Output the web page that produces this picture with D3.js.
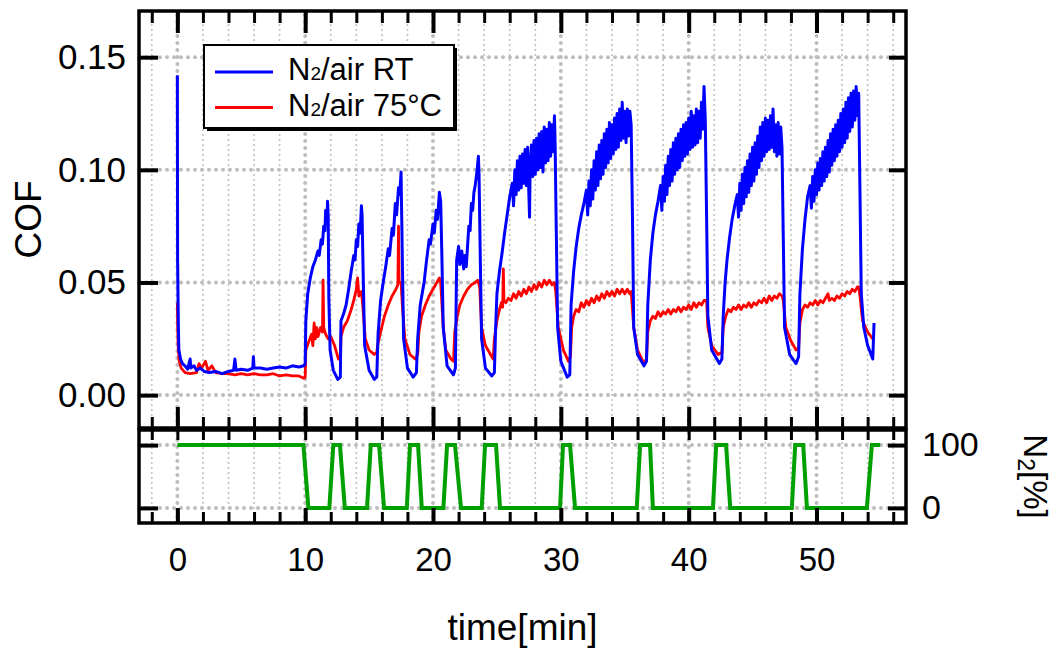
<!DOCTYPE html>
<html>
<head>
<meta charset="utf-8">
<script src="https://cdn.jsdelivr.net/npm/d3@7"></script>
<style>
  body { margin: 0; background: #fff; }
  text { font-family: "Liberation Sans", Arial, sans-serif; fill: #000; }
</style>
</head>
<body>
<div id="viz"></div>
<script>
// COF vs time, N2 / air switching, room temperature (blue)
const rtData = [
  [0.0, 0.142], [0.02, 0.060], [0.05, 0.045], [0.08, 0.030], [0.12, 0.020], [0.25, 0.016], [0.4, 0.014],
  [0.6, 0.013], [0.8, 0.0115], [1.0, 0.016], [1.05, 0.012], [1.3, 0.013], [1.5, 0.011], [1.8, 0.012],
  [2.1, 0.0105], [2.5, 0.010], [3.0, 0.0105], [3.5, 0.0095], [4.0, 0.0105], [4.4, 0.011], [4.5, 0.016],
  [4.6, 0.011], [5.0, 0.0115], [5.5, 0.011], [5.9, 0.012], [5.95, 0.017], [6.0, 0.012], [6.5, 0.012],
  [7.0, 0.0115], [7.5, 0.012], [8.0, 0.0125], [8.5, 0.012], [9.0, 0.013], [9.5, 0.0125], [9.9, 0.013],
  [10.0, 0.014], [10.05, 0.033], [10.2, 0.045], [10.4, 0.052], [10.6, 0.057], [10.8, 0.060], [11.0, 0.064],
  [11.1, 0.062], [11.25, 0.069], [11.35, 0.067], [11.45, 0.075], [11.55, 0.073], [11.6, 0.082], [11.7, 0.078],
  [11.75, 0.086], [11.8, 0.080],
  [11.85, 0.043], [11.95, 0.020], [12.2, 0.011], [12.55, 0.007], [12.75, 0.008],
  [12.8, 0.033], [13.0, 0.036], [13.2, 0.040], [13.4, 0.047], [13.6, 0.055], [13.8, 0.062], [13.9, 0.060],
  [14.0, 0.069], [14.1, 0.066], [14.2, 0.076], [14.3, 0.072], [14.4, 0.084], [14.45, 0.080],
  [14.55, 0.050], [14.65, 0.022], [15.0, 0.011], [15.4, 0.007], [15.6, 0.008],
  [15.7, 0.027], [15.9, 0.042], [16.1, 0.050], [16.3, 0.057], [16.5, 0.065], [16.6, 0.062], [16.8, 0.074],
  [16.9, 0.071], [17.05, 0.085], [17.15, 0.080], [17.3, 0.092], [17.4, 0.089], [17.5, 0.099],
  [17.6, 0.060], [17.7, 0.025], [18.0, 0.012], [18.45, 0.008], [18.7, 0.010],
  [18.8, 0.025], [19.0, 0.040], [19.3, 0.050], [19.5, 0.060], [19.7, 0.069], [19.8, 0.067], [20.0, 0.076],
  [20.1, 0.072], [20.25, 0.082], [20.35, 0.078], [20.5, 0.090], [20.6, 0.086],
  [20.7, 0.060], [20.8, 0.030], [21.1, 0.013], [21.6, 0.009], [21.75, 0.012],
  [21.85, 0.060], [22.0, 0.066], [22.1, 0.058], [22.25, 0.064], [22.4, 0.056], [22.5, 0.062], [22.6, 0.057],
  [22.7, 0.066], [22.8, 0.075], [22.9, 0.073], [23.0, 0.085], [23.1, 0.082], [23.2, 0.090], [23.3, 0.093],
  [23.45, 0.100], [23.55, 0.106], [23.6, 0.098],
  [23.7, 0.060], [23.8, 0.025], [24.1, 0.012], [24.6, 0.0085], [24.8, 0.010],
  [24.9, 0.030], [25.0, 0.045], [25.2, 0.055], [25.4, 0.063], [25.6, 0.072], [25.8, 0.080], [26.0, 0.088],
  [26.2, 0.094], [26.3, 0.084], [26.4, 0.100], [26.5, 0.089], [26.6, 0.104], [26.7, 0.091], [26.8, 0.106],
  [26.9, 0.092], [27.0, 0.107], [27.1, 0.094], [27.2, 0.109], [27.3, 0.093], [27.4, 0.110], [27.5, 0.089],
  [27.55, 0.079], [27.6, 0.101], [27.7, 0.111], [27.8, 0.097], [27.9, 0.113], [28.0, 0.098], [28.1, 0.114],
  [28.2, 0.100], [28.3, 0.116], [28.4, 0.101], [28.5, 0.117], [28.6, 0.099], [28.7, 0.119], [28.8, 0.103],
  [28.9, 0.118], [29.0, 0.104], [29.1, 0.121], [29.2, 0.106], [29.3, 0.120], [29.4, 0.108], [29.5, 0.124],
  [29.55, 0.112],
  [29.65, 0.070], [29.75, 0.030], [30.0, 0.015], [30.5, 0.008], [30.7, 0.009],
  [30.8, 0.040], [31.0, 0.055], [31.2, 0.066], [31.4, 0.074], [31.6, 0.080], [31.8, 0.085], [32.0, 0.091],
  [32.1, 0.080], [32.2, 0.095], [32.3, 0.084], [32.4, 0.100], [32.5, 0.087], [32.6, 0.104], [32.7, 0.091],
  [32.8, 0.108], [32.9, 0.093], [33.0, 0.111], [33.1, 0.096], [33.2, 0.113], [33.3, 0.098], [33.4, 0.116],
  [33.5, 0.101], [33.6, 0.118], [33.7, 0.103], [33.8, 0.121], [33.9, 0.105], [34.0, 0.120], [34.1, 0.107],
  [34.2, 0.123], [34.3, 0.109], [34.4, 0.125], [34.5, 0.110], [34.6, 0.127], [34.7, 0.113], [34.8, 0.130],
  [34.9, 0.114], [35.0, 0.126], [35.1, 0.112], [35.2, 0.127], [35.3, 0.115], [35.4, 0.126], [35.5, 0.120],
  [35.6, 0.080], [35.7, 0.030], [36.0, 0.018], [36.5, 0.013], [36.7, 0.015],
  [36.8, 0.040], [37.0, 0.060], [37.2, 0.072], [37.4, 0.080], [37.6, 0.086], [37.8, 0.093], [37.9, 0.082],
  [38.0, 0.097], [38.1, 0.086], [38.2, 0.102], [38.3, 0.089], [38.4, 0.106], [38.5, 0.093], [38.6, 0.109],
  [38.7, 0.095], [38.8, 0.112], [38.9, 0.098], [39.0, 0.114], [39.1, 0.100], [39.2, 0.116], [39.3, 0.101],
  [39.4, 0.118], [39.5, 0.104], [39.6, 0.120], [39.7, 0.106], [39.8, 0.121], [39.9, 0.107], [40.0, 0.123],
  [40.1, 0.109], [40.2, 0.126], [40.3, 0.110], [40.4, 0.124], [40.5, 0.111], [40.6, 0.127], [40.7, 0.112],
  [40.8, 0.126], [40.9, 0.114], [41.0, 0.130], [41.1, 0.118], [41.2, 0.137], [41.3, 0.122],
  [41.4, 0.080], [41.5, 0.035], [41.8, 0.020], [42.4, 0.014], [42.6, 0.016],
  [42.7, 0.035], [42.85, 0.050], [43.0, 0.060], [43.2, 0.070], [43.4, 0.078], [43.6, 0.084], [43.8, 0.089],
  [43.9, 0.079], [44.0, 0.094], [44.1, 0.082], [44.2, 0.098], [44.3, 0.085], [44.4, 0.101], [44.5, 0.088],
  [44.6, 0.104], [44.7, 0.090], [44.8, 0.107], [44.9, 0.093], [45.0, 0.110], [45.1, 0.095], [45.2, 0.112],
  [45.3, 0.098], [45.4, 0.115], [45.5, 0.101], [45.6, 0.119], [45.7, 0.104], [45.8, 0.121], [45.9, 0.106],
  [46.0, 0.123], [46.1, 0.108], [46.2, 0.122], [46.3, 0.109], [46.4, 0.124], [46.5, 0.110], [46.6, 0.127],
  [46.7, 0.108], [46.8, 0.120], [46.9, 0.106], [47.0, 0.121], [47.1, 0.107], [47.2, 0.119], [47.3, 0.110],
  [47.4, 0.070], [47.5, 0.030], [47.9, 0.018], [48.4, 0.014], [48.6, 0.017],
  [48.7, 0.045], [48.9, 0.065], [49.1, 0.078], [49.3, 0.088], [49.5, 0.093], [49.6, 0.083], [49.7, 0.097],
  [49.8, 0.086], [49.9, 0.100], [50.0, 0.089], [50.1, 0.103], [50.2, 0.091], [50.3, 0.105], [50.4, 0.093],
  [50.5, 0.108], [50.6, 0.095], [50.7, 0.110], [50.8, 0.097], [50.9, 0.113], [51.0, 0.099], [51.1, 0.116],
  [51.2, 0.102], [51.3, 0.118], [51.4, 0.104], [51.5, 0.120], [51.6, 0.106], [51.7, 0.122], [51.8, 0.108],
  [51.9, 0.125], [52.0, 0.110], [52.1, 0.127], [52.2, 0.112], [52.3, 0.130], [52.4, 0.114], [52.5, 0.132],
  [52.6, 0.117], [52.7, 0.134], [52.8, 0.119], [52.9, 0.135], [53.0, 0.122], [53.1, 0.137], [53.2, 0.124],
  [53.3, 0.134],
  [53.4, 0.090], [53.5, 0.045], [53.7, 0.030], [54.0, 0.022], [54.4, 0.016], [54.5, 0.032]
];

// same test at 75 °C (red)
const hotData = [
  [0.0, 0.041], [0.03, 0.030], [0.06, 0.022], [0.15, 0.015], [0.3, 0.012], [0.6, 0.010], [1.0, 0.0095],
  [1.5, 0.010], [1.7, 0.014], [1.9, 0.012], [2.2, 0.015], [2.4, 0.011], [2.7, 0.013], [3.0, 0.010],
  [3.5, 0.0095], [4.0, 0.0095], [4.5, 0.009], [5.0, 0.0095], [5.5, 0.009], [6.0, 0.0095], [6.5, 0.009],
  [7.0, 0.009], [7.5, 0.0095], [8.0, 0.0085], [8.5, 0.009], [9.0, 0.0085], [9.5, 0.0085], [9.9, 0.0075],
  [10.0, 0.008], [10.05, 0.020], [10.3, 0.024], [10.5, 0.027], [10.6, 0.022], [10.7, 0.032], [10.8, 0.025],
  [10.9, 0.030], [11.0, 0.026], [11.2, 0.030], [11.35, 0.028], [11.4, 0.051], [11.45, 0.030], [11.6, 0.027],
  [11.8, 0.025], [12.0, 0.026], [12.3, 0.022], [12.6, 0.016], [12.75, 0.016],
  [12.8, 0.026], [13.0, 0.030], [13.3, 0.033], [13.6, 0.038], [13.8, 0.042], [14.0, 0.047], [14.1, 0.052],
  [14.2, 0.044], [14.4, 0.046], [14.5, 0.040], [14.7, 0.025], [15.0, 0.020], [15.4, 0.018], [15.6, 0.019],
  [15.7, 0.023], [15.9, 0.028], [16.2, 0.035], [16.5, 0.040], [16.8, 0.044], [17.1, 0.047], [17.25, 0.049],
  [17.3, 0.075], [17.35, 0.050], [17.5, 0.050], [17.6, 0.040], [17.8, 0.025], [18.2, 0.018], [18.6, 0.016],
  [18.8, 0.018],
  [18.9, 0.028], [19.1, 0.035], [19.4, 0.040], [19.7, 0.044], [20.0, 0.047], [20.3, 0.050], [20.5, 0.052],
  [20.6, 0.050], [20.8, 0.030], [21.0, 0.020], [21.4, 0.016], [21.6, 0.015],
  [21.7, 0.028], [21.9, 0.035], [22.1, 0.040], [22.4, 0.044], [22.7, 0.047], [23.0, 0.049], [23.3, 0.050],
  [23.5, 0.051], [23.65, 0.048], [23.8, 0.030], [24.1, 0.022], [24.5, 0.018], [24.7, 0.016],
  [24.8, 0.025], [25.0, 0.033], [25.2, 0.038], [25.35, 0.041], [25.45, 0.039], [25.5, 0.056], [25.55, 0.042],
  [25.7, 0.041], [25.9, 0.043], [26.1, 0.042], [26.3, 0.045], [26.5, 0.043], [26.7, 0.046], [26.9, 0.044],
  [27.1, 0.047], [27.3, 0.045], [27.5, 0.048], [27.7, 0.046], [27.9, 0.049], [28.1, 0.047], [28.3, 0.050],
  [28.5, 0.048], [28.7, 0.051], [28.9, 0.049], [29.1, 0.051], [29.3, 0.049], [29.5, 0.050], [29.6, 0.046],
  [29.8, 0.030], [30.2, 0.020], [30.6, 0.015], [30.75, 0.017],
  [30.85, 0.030], [31.0, 0.035], [31.2, 0.038], [31.4, 0.037], [31.6, 0.041], [31.8, 0.039], [32.0, 0.042],
  [32.2, 0.040], [32.4, 0.043], [32.6, 0.041], [32.8, 0.044], [33.0, 0.042], [33.2, 0.045], [33.4, 0.043],
  [33.6, 0.046], [33.8, 0.044], [34.0, 0.046], [34.2, 0.044], [34.4, 0.047], [34.6, 0.045], [34.8, 0.047],
  [35.0, 0.045], [35.2, 0.047], [35.4, 0.045], [35.5, 0.046],
  [35.7, 0.030], [36.0, 0.020], [36.5, 0.014], [36.7, 0.016],
  [36.8, 0.028], [37.0, 0.033], [37.2, 0.035], [37.4, 0.034], [37.6, 0.037], [37.8, 0.035], [38.0, 0.037],
  [38.2, 0.036], [38.4, 0.038], [38.6, 0.036], [38.8, 0.038], [39.0, 0.037], [39.2, 0.039], [39.4, 0.037],
  [39.6, 0.039], [39.8, 0.038], [40.0, 0.040], [40.2, 0.038], [40.4, 0.041], [40.6, 0.039], [40.8, 0.041],
  [41.0, 0.040], [41.2, 0.042], [41.4, 0.042],
  [41.5, 0.030], [41.8, 0.022], [42.3, 0.018], [42.6, 0.019],
  [42.7, 0.030], [42.9, 0.035], [43.1, 0.038], [43.3, 0.037], [43.5, 0.039], [43.7, 0.038], [43.9, 0.040],
  [44.1, 0.038], [44.3, 0.040], [44.5, 0.039], [44.7, 0.041], [44.9, 0.039], [45.1, 0.041], [45.3, 0.040],
  [45.5, 0.042], [45.7, 0.041], [45.9, 0.043], [46.1, 0.041], [46.3, 0.044], [46.5, 0.042], [46.7, 0.044],
  [46.9, 0.043], [47.1, 0.045], [47.3, 0.044], [47.4, 0.042],
  [47.6, 0.030], [48.0, 0.024], [48.4, 0.020], [48.6, 0.021],
  [48.7, 0.032], [48.9, 0.038], [49.1, 0.040], [49.3, 0.039], [49.5, 0.041], [49.7, 0.040], [49.9, 0.042],
  [50.1, 0.040], [50.3, 0.042], [50.5, 0.041], [50.7, 0.043], [50.9, 0.045], [51.0, 0.042], [51.2, 0.043],
  [51.4, 0.042], [51.6, 0.044], [51.8, 0.043], [52.0, 0.045], [52.2, 0.044], [52.4, 0.046], [52.6, 0.045],
  [52.8, 0.047], [53.0, 0.046], [53.2, 0.048], [53.3, 0.048],
  [53.4, 0.044], [53.6, 0.033], [54.0, 0.028], [54.4, 0.025]
];

// gas program, N2 share in %
const n2Time = [0, 9.86, 10.25,
  11.89, 12.2, 12.72, 13.1,
  14.84, 15.13, 15.78, 16.17,
  17.95, 18.2, 18.83, 19.12,
  20.81, 21.1, 21.72, 22.19,
  23.81, 24.07, 24.93, 25.24,
  29.94, 30.17, 30.72, 31.11,
  35.94, 36.2, 36.98, 37.2,
  41.9, 42.15, 42.93, 43.25,
  48.07, 48.33, 48.96, 49.25,
  53.94, 54.33, 54.98];
const n2Level = [100, 100, 0,
  0, 100, 100, 0,
  0, 100, 100, 0,
  0, 100, 100, 0,
  0, 100, 100, 0,
  0, 100, 100, 0,
  0, 100, 100, 0,
  0, 100, 100, 0,
  0, 100, 100, 0,
  0, 100, 100, 0,
  0, 100, 100];

const xMajor = [0, 10, 20, 30, 40, 50];
const xMinor = [-2, 0, 2, 4, 6, 8, 10, 12, 14, 16, 18, 20, 22, 24, 26, 28, 30, 32, 34, 36, 38, 40, 42, 44, 46, 48, 50, 52, 54, 56];
const cofTicks = [0, 0.05, 0.10, 0.15];
const n2Ticks = [0, 100];
const legendNames = ['RT', '75°C'];
const legendColors = ['#0000ff', '#ff0000'];

const W = 1058, H = 653;
const left = 139, right = 906;
const topY = 11, topB = 428, botT = 430, botB = 523;
const gridColor = '#bdbdbd';

const x = d3.scaleLinear().domain([-3, 57]).range([left, right]);
const yTop = d3.scaleLinear().domain([-0.0146, 0.1705]).range([topB, topY]);
const yBot = d3.scaleLinear().domain([-24, 124]).range([botB, botT]);

const svg = d3.select('#viz').append('svg')
  .attr('width', W)
  .attr('height', H);

svg.append('defs').append('clipPath').attr('id', 'clipTop')
  .append('rect')
  .attr('x', left).attr('y', topY)
  .attr('width', right - left).attr('height', topB - topY);

// dotted grid
function grid(y0, y1, yScale, yVals) {
  let g = svg.append('g');
  g.selectAll('.vminor')
    .data(xMinor.filter(v => xMajor.indexOf(v) < 0))
    .enter().append('line')
    .attr('x1', d => x(d)).attr('x2', d => x(d))
    .attr('y1', y0).attr('y2', y1)
    .attr('stroke', gridColor).attr('stroke-width', 2)
    .attr('stroke-linecap', 'round').attr('stroke-dasharray', '0 5');
  g.selectAll('.vmajor')
    .data(xMajor)
    .enter().append('line')
    .attr('x1', d => x(d)).attr('x2', d => x(d))
    .attr('y1', y0).attr('y2', y1)
    .attr('stroke', gridColor).attr('stroke-width', 4)
    .attr('stroke-linecap', 'round').attr('stroke-dasharray', '0 7');
  g.selectAll('.hmajor')
    .data(yVals)
    .enter().append('line')
    .attr('x1', left).attr('x2', right)
    .attr('y1', d => yScale(d)).attr('y2', d => yScale(d))
    .attr('stroke', gridColor).attr('stroke-width', 4)
    .attr('stroke-linecap', 'round').attr('stroke-dasharray', '0 7');
}
grid(topY + 4, topB - 2, yTop, cofTicks);
grid(botT + 3, botB - 2, yBot, n2Ticks);

// data lines
let cofLine = d3.line()
  .x(d => x(d[0]))
  .y(d => yTop(d[1]));

let plot = svg.append('g').attr('clip-path', 'url(#clipTop)');
plot.append('path')
  .datum(hotData)
  .attr('d', cofLine)
  .attr('fill', 'none')
  .attr('stroke', legendColors[1])
  .attr('stroke-width', 2.8)
  .attr('stroke-linejoin', 'round');
plot.append('path')
  .datum(rtData)
  .attr('d', cofLine)
  .attr('fill', 'none')
  .attr('stroke', legendColors[0])
  .attr('stroke-width', 3)
  .attr('stroke-linejoin', 'round');

let n2Line = d3.line()
  .x(d => x(d[0]))
  .y(d => yBot(d[1]));
svg.append('path')
  .datum(n2Time.map((t, i) => [t, n2Level[i]]))
  .attr('d', n2Line)
  .attr('fill', 'none')
  .attr('stroke', '#00a000')
  .attr('stroke-width', 4)
  .attr('stroke-linejoin', 'miter');

// frames
[[topY, topB], [botT, botB]].forEach(p => {
  svg.append('rect')
    .attr('x', left).attr('y', p[0])
    .attr('width', right - left).attr('height', p[1] - p[0])
    .attr('fill', 'none')
    .attr('stroke', '#000')
    .attr('stroke-width', 3.5);
});

// inward ticks through d3 axes
function ticks(axis, tx, ty, width) {
  let g = svg.append('g')
    .attr('transform', 'translate(' + tx + ',' + ty + ')')
    .call(axis);
  g.select('.domain').remove();
  g.selectAll('.tick line').attr('stroke', '#000').attr('stroke-width', width);
  return g;
}

ticks(d3.axisBottom(x).tickValues(xMinor).tickSize(12).tickFormat(''), 0, topY, 3);
ticks(d3.axisBottom(x).tickValues(xMajor).tickSize(22).tickFormat(''), 0, topY, 4);
ticks(d3.axisTop(x).tickValues(xMinor).tickSize(11).tickFormat(''), 0, topB, 3);
ticks(d3.axisTop(x).tickValues(xMajor).tickSize(21).tickFormat(''), 0, topB, 4);
ticks(d3.axisRight(yTop).tickValues(cofTicks).tickSize(19).tickFormat(''), left, 0, 4);
ticks(d3.axisLeft(yTop).tickValues(cofTicks).tickSize(17).tickFormat(''), right, 0, 4);

ticks(d3.axisBottom(x).tickValues(xMinor).tickSize(10).tickFormat(''), 0, botT, 3);
ticks(d3.axisTop(x).tickValues(xMinor).tickSize(11).tickFormat(''), 0, botB, 3);
ticks(d3.axisTop(x).tickValues(xMajor).tickSize(15).tickFormat(''), 0, botB, 4);
ticks(d3.axisRight(yBot).tickValues(n2Ticks).tickSize(19).tickFormat(''), left, 0, 4);
ticks(d3.axisLeft(yBot).tickValues(n2Ticks).tickSize(18).tickFormat(''), right, 0, 4);

// tick labels
function labels(axis, tx, ty, size) {
  let g = svg.append('g')
    .attr('transform', 'translate(' + tx + ',' + ty + ')')
    .call(axis);
  g.select('.domain').remove();
  g.selectAll('.tick line').remove();
  g.attr('font-family', '"Liberation Sans", Arial, sans-serif').attr('font-size', size);
  return g;
}
labels(d3.axisLeft(yTop).tickValues(cofTicks).tickSize(0).tickPadding(13).tickFormat(d3.format('.2f')), left, 0, 35);
labels(d3.axisBottom(x).tickValues(xMajor).tickSize(0).tickPadding(25).tickFormat(d3.format('d')), 0, botB, 33);
labels(d3.axisRight(yBot).tickValues(n2Ticks).tickSize(0).tickPadding(16).tickFormat(d3.format('d')), right, 0, 34);

// axis titles
svg.append('text')
  .attr('transform', 'translate(41,' + (topY + topB) / 2 + ') rotate(-90)')
  .attr('text-anchor', 'middle')
  .attr('font-size', 37)
  .text('COF');

svg.append('text')
  .attr('x', (left + right) / 2)
  .attr('y', 640)
  .attr('text-anchor', 'middle')
  .attr('font-size', 37)
  .text('time[min]');

let n2Title = svg.append('text')
  .attr('transform', 'translate(1024,' + (botT + botB) / 2 + ') rotate(90)')
  .attr('text-anchor', 'middle')
  .attr('font-size', 33);
n2Title.append('tspan').text('N');
n2Title.append('tspan').attr('font-size', 23).attr('dy', 6).text('2');
n2Title.append('tspan').attr('dy', -6).text('[%]');

// legend
let legend = svg.append('g');
legend.append('rect')
  .attr('x', 207).attr('y', 48)
  .attr('width', 250).attr('height', 83)
  .attr('fill', '#000');
legend.append('rect')
  .attr('x', 204).attr('y', 45)
  .attr('width', 250).attr('height', 83)
  .attr('fill', '#fff')
  .attr('stroke', '#000')
  .attr('stroke-width', 2);

legendNames.forEach((name, i) => {
  let ly = 72 + i * 35.5;
  legend.append('line')
    .attr('x1', 215).attr('x2', 273)
    .attr('y1', ly).attr('y2', ly)
    .attr('stroke', legendColors[i])
    .attr('stroke-width', 3);
  let t = legend.append('text')
    .attr('x', 288)
    .attr('y', ly + 8)
    .attr('font-size', 31);
  t.append('tspan').text('N');
  t.append('tspan').attr('font-size', 19).text('2');
  t.append('tspan').text('/air ' + name);
});
</script>
</body>
</html>
